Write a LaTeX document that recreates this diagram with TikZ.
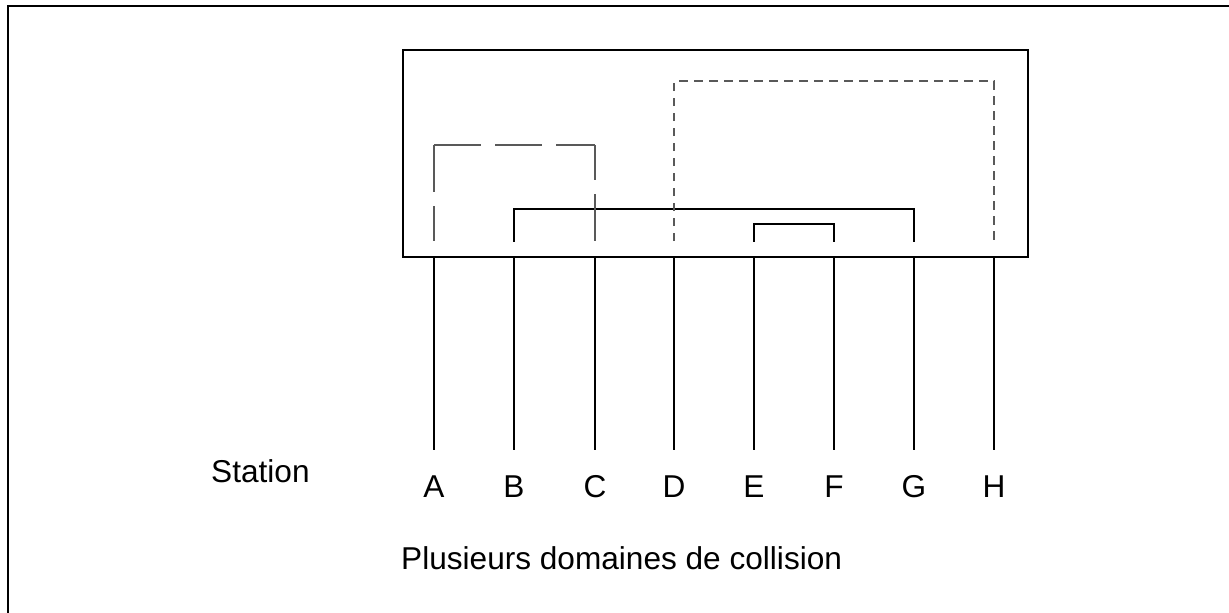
\documentclass[tikz,border=0pt]{standalone}
\usepackage{fontspec}
\setmainfont{Liberation Sans}
\begin{document}
\begin{tikzpicture}[x=1pt,y=-1pt,
  frameline/.style={line width=2.8pt,black},
  boxline/.style={line width=2.4pt,black},
  wire/.style={line width=2.3pt,black},
  link/.style={line width=2.7pt,black,line cap=rect},
  longdash/.style={line width=1.2pt,black!65,dash pattern=on 47pt off 14pt},
  shortdash/.style={line width=1.2pt,black!65,dash pattern=on 8.5pt off 6.5pt},
  lbl/.style={inner sep=0pt,anchor=base,font=\fontsize{31.6}{38}\selectfont}]
\useasboundingbox (0,0) rectangle (1229,613);
% page frame (top and left edges)
\draw[frameline] (1229,6) -- (8,6) -- (8,613);
% hub
\node[boxline,draw,minimum width=625pt,minimum height=207pt,inner sep=0pt,anchor=north west] (hub) at (402,49) {};
% stations
\foreach \n/\x in {A/434,B/514,C/595,D/674,E/754,F/834,G/914,H/994}{
  \coordinate (p\n) at (\x,256);
  \coordinate (i\n) at (\x,241);
  \coordinate (w\n) at (\x,450);
  \node[lbl] (s\n) at (\x,497) {\n};
  \draw[wire] (p\n) -- (w\n);
}
\node[lbl,anchor=base west] (station) at (211,482) {Station};
\node[lbl,anchor=base west] (caption) at (401,569) {Plusieurs domaines de collision};
% links inside the hub
\coordinate (bt) at (514,209); \coordinate (gt) at (914,209);
\coordinate (et) at (754,224); \coordinate (ft) at (834,224);
\draw[link] (iB) -- (bt) -- (gt) -- (iG);
\draw[link] (iE) -- (et) -- (ft) -- (iF);
% collision domains
\coordinate (ac1) at (434,145); \coordinate (ac2) at (595,145);
\draw[longdash] (ac1) -- (iA);
\draw[longdash] (ac1) -- (ac2);
\draw[longdash,dash phase=12pt] (ac2) -- (iC);
\coordinate (dh1) at (674,81); \coordinate (dh2) at (994,81);
\draw[shortdash] (iD) -- (dh1) -- (dh2) -- (iH);
\end{tikzpicture}
\end{document}
